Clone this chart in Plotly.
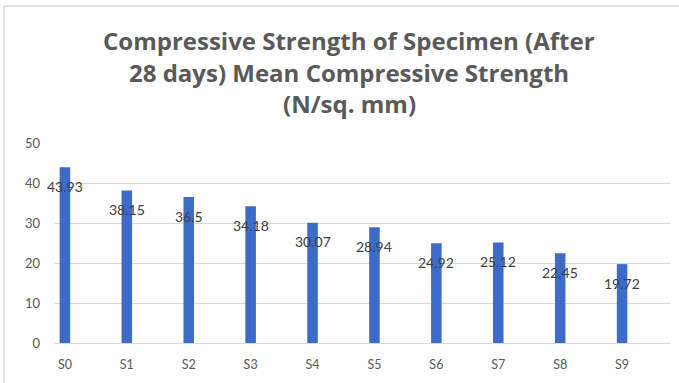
import plotly.graph_objects as go

specimens = ["S0", "S1", "S2", "S3", "S4", "S5", "S6", "S7", "S8", "S9"]
strength = [43.93, 38.15, 36.5, 34.18, 30.07, 28.94, 24.92, 25.12, 22.45, 19.72]
y_ticks = [0, 10, 20, 30, 40, 50]

title_lines = [
    "Compressive Strength of Specimen (After",
    "28 days) Mean Compressive Strength",
    "(N/sq. mm)",
]

FONT = "Lato, Open Sans, sans-serif"
H = 383
M_T, M_B = 143, 40
PLOT_H = H - M_T - M_B


def px_to_paper_y(py):
    # convert a pixel row (from the top) to paper coordinates
    return (H - M_B - py) / PLOT_H


fig = go.Figure()
fig.add_trace(go.Bar(
    x=specimens,
    y=strength,
    width=0.17,
    marker=dict(color="#3c6cc8", line=dict(width=0)),
    hoverinfo="x+y",
))

# value labels sit just inside the top of each bar
for name, val in zip(specimens, strength):
    fig.add_annotation(
        x=name, y=val, text=f"{val:g}", showarrow=False,
        yshift=-19, font=dict(family=FONT, size=14, color="#404040"),
    )

# three-line centred title
for i, line in enumerate(title_lines):
    fig.add_annotation(
        xref="paper", yref="paper", x=0.478, y=px_to_paper_y(40 + 32 * i),
        xanchor="center", yanchor="middle", text=f"<b>{line}</b>", showarrow=False,
        font=dict(family="Open Sans, Lato, sans-serif", size=24, color="#595959"),
    )

fig.update_layout(
    width=679, height=H,
    margin=dict(l=55, r=8, t=M_T, b=M_B),
    paper_bgcolor="white", plot_bgcolor="white",
    showlegend=False,
    xaxis=dict(
        type="category", range=[-0.16, 9.79],
        showgrid=False, showline=False, ticks="",
        tickfont=dict(family=FONT, size=12.5, color="#595959"),
        ticklabelstandoff=12,
    ),
    yaxis=dict(
        range=[0, 50], tickvals=y_ticks,
        showgrid=True, gridcolor="#d9d9d9", gridwidth=1,
        zeroline=True, zerolinecolor="#d9d9d9", zerolinewidth=1,
        showline=False, ticks="",
        tickfont=dict(family=FONT, size=13, color="#595959"),
        ticklabelstandoff=14,
    ),
)

# frame edges along the top and left of the chart area
frame_top = px_to_paper_y(6)
frame_left = (4 - 55) / 616
fig.add_shape(type="line", xref="paper", yref="paper",
              x0=frame_left, x1=1.02, y0=frame_top, y1=frame_top,
              line=dict(color="#d9d9d9", width=1.5))
fig.add_shape(type="line", xref="paper", yref="paper",
              x0=frame_left, x1=frame_left, y0=-0.3, y1=frame_top,
              line=dict(color="#d9d9d9", width=1.5))

fig.write_html("out.html")
